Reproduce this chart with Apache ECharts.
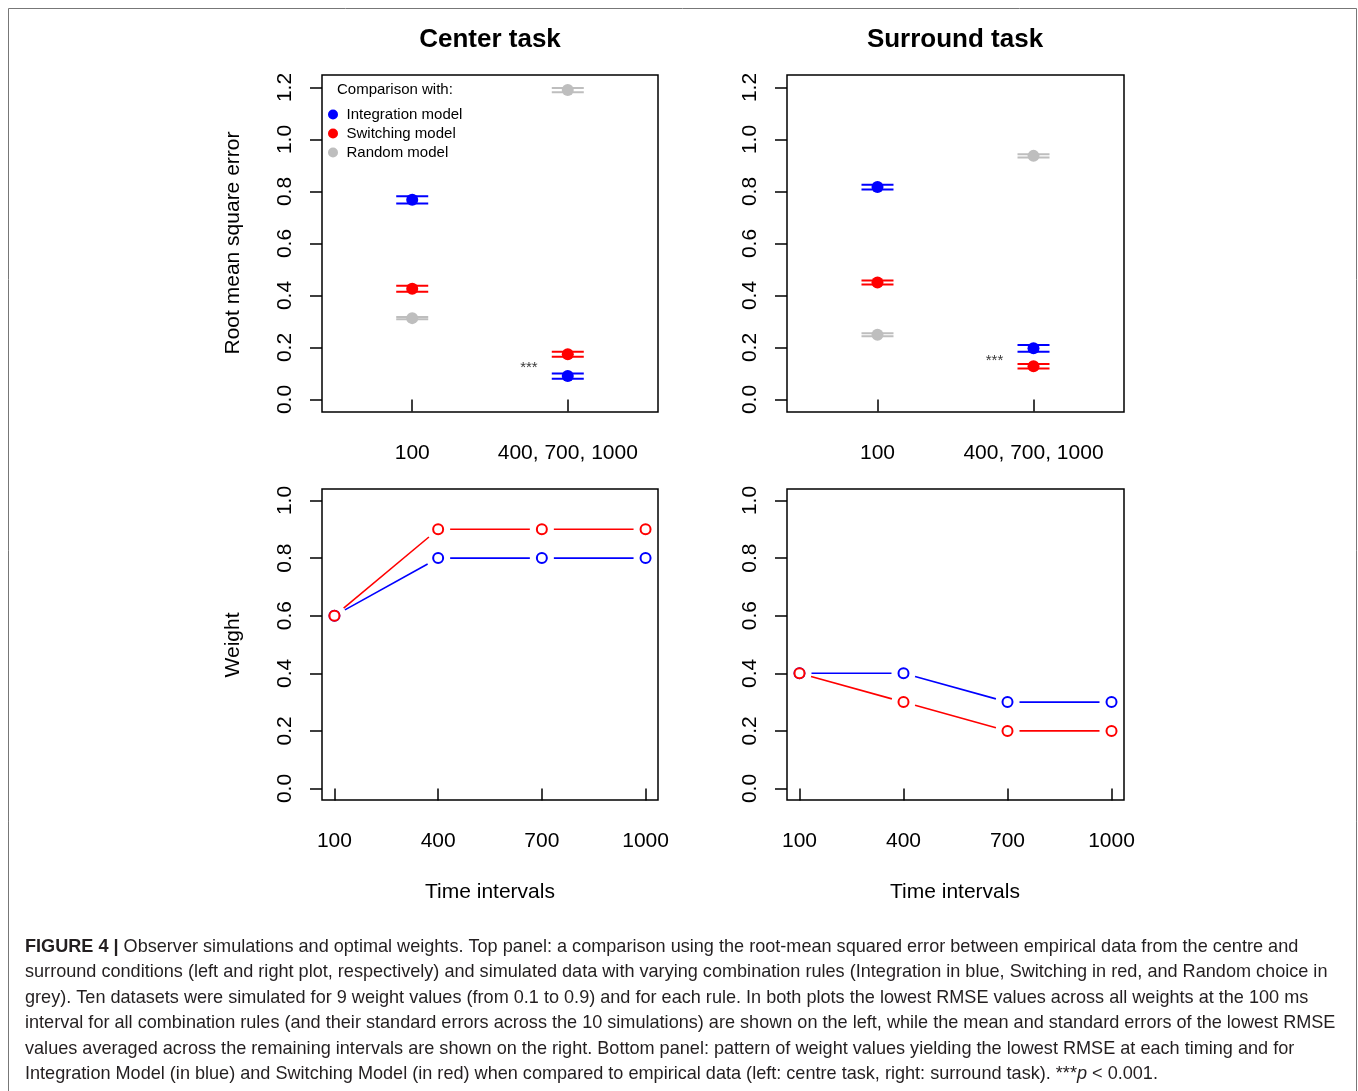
<!DOCTYPE html>
<html>
<head>
<meta charset="utf-8">
<script src="https://cdn.jsdelivr.net/npm/echarts@6/dist/echarts.min.js"></script>
<style>
html,body{margin:0;padding:0;background:#fff;}
#chart{width:1358px;height:1091px;}
</style>
</head>
<body>
<div id="chart"></div>
<script>
// ---------- data ----------
const topCategories = ['100', '400, 700, 1000'];
const topPositions = [1, 2];
const rmseTicks = [0, 0.2, 0.4, 0.6, 0.8, 1.0, 1.2];
const weightTicks = [0, 0.2, 0.4, 0.6, 0.8, 1.0];
const intervals = [100, 400, 700, 1000];

const centerIntegration = [0.768, 0.090];
const centerIntegrationSE = [0.014, 0.010];
const centerSwitching = [0.426, 0.174];
const centerSwitchingSE = [0.012, 0.010];
const centerRandom = [0.313, 1.190];
const centerRandomSE = [0.004, 0.008];

const surroundIntegration = [0.817, 0.197];
const surroundIntegrationSE = [0.009, 0.013];
const surroundSwitching = [0.450, 0.128];
const surroundSwitchingSE = [0.008, 0.009];
const surroundRandom = [0.249, 0.937];
const surroundRandomSE = [0.006, 0.006];

const centerWeightIntegration = [0.6, 0.8, 0.8, 0.8];
const centerWeightSwitching = [0.6, 0.9, 0.9, 0.9];
const surroundWeightIntegration = [0.4, 0.4, 0.3, 0.3];
const surroundWeightSwitching = [0.4, 0.3, 0.2, 0.2];

const centerStars = [[1.75, 0.12]];
const surroundStars = [[1.75, 0.15]];

const captionLines = [
  '{b|FIGURE 4 |} Observer simulations and optimal weights. Top panel: a comparison using the root-mean squared error between empirical data from the centre and',
  'surround conditions (left and right plot, respectively) and simulated data with varying combination rules (Integration in blue, Switching in red, and Random choice in',
  'grey). Ten datasets were simulated for 9 weight values (from 0.1 to 0.9) and for each rule. In both plots the lowest RMSE values across all weights at the 100 ms',
  'interval for all combination rules (and their standard errors across the 10 simulations) are shown on the left, while the mean and standard errors of the lowest RMSE',
  'values averaged across the remaining intervals are shown on the right. Bottom panel: pattern of weight values yielding the lowest RMSE at each timing and for',
  'Integration Model (in blue) and Switching Model (in red) when compared to empirical data (left: centre task, right: surround task). ***{i|p} < 0.001.'
];

// ---------- styles ----------
const BLUE = '#0000FF', RED = '#FF0000', GREY = '#BEBEBE';
const FONT = '"Liberation Sans", Arial, Helvetica, sans-serif';
const CAP = 18.1;

const chart = echarts.init(document.getElementById('chart'));

const grids = [
  {left: 322, top: 75, width: 336, height: 337},
  {left: 787, top: 75, width: 337, height: 337},
  {left: 322, top: 489, width: 336, height: 311},
  {left: 787, top: 489, width: 337, height: 311}
].map(g => Object.assign({show: true, borderColor: '#000', borderWidth: 1.5, backgroundColor: 'transparent'}, g));

function xAxisTop(gi) {
  return {
    type: 'value', gridIndex: gi, min: 0.42, max: 2.58,
    splitLine: {show: false}, axisLine: {show: false},
    axisTick: {show: true, customValues: topPositions, length: 12, lineStyle: {color: '#000', width: 1.5}},
    axisLabel: {show: true, customValues: topPositions, margin: 31, color: '#000', fontSize: 21, fontFamily: FONT,
      formatter: v => topCategories[topPositions.indexOf(v)]}
  };
}
function xAxisBottom(gi) {
  return {
    type: 'value', gridIndex: gi, min: 64, max: 1036,
    splitLine: {show: false}, axisLine: {show: false},
    axisTick: {show: true, customValues: intervals, length: 12, lineStyle: {color: '#000', width: 1.5}},
    axisLabel: {show: true, customValues: intervals, margin: 31, color: '#000', fontSize: 21, fontFamily: FONT,
      formatter: v => String(v)}
  };
}
function yAxis(gi, min, max, ticks) {
  return {
    type: 'value', gridIndex: gi, min: min, max: max,
    splitLine: {show: false}, axisLine: {show: false},
    axisTick: {show: true, customValues: ticks, length: 12, lineStyle: {color: '#000', width: 1.5}},
    axisLabel: {show: true, customValues: ticks, rotate: 90, margin: 26, color: '#000', fontSize: 21, fontFamily: FONT,
      formatter: v => v.toFixed(1)}
  };
}

function errRender(params, api) {
  const x = api.value(0), y = api.value(1), se = api.value(2);
  const hi = api.coord([x, y + se]), lo = api.coord([x, y - se]);
  const style = {stroke: api.visual('color'), lineWidth: 2};
  return {type: 'group', children: [
    {type: 'line', shape: {x1: hi[0] - 16, y1: hi[1], x2: hi[0] + 16, y2: hi[1]}, style: style},
    {type: 'line', shape: {x1: lo[0] - 16, y1: lo[1], x2: lo[0] + 16, y2: lo[1]}, style: style},
    {type: 'line', shape: {x1: hi[0], y1: hi[1], x2: lo[0], y2: lo[1]}, style: style}
  ]};
}
function gapRender(params, api) {
  const a = api.coord([api.value(0), api.value(1)]);
  const b = api.coord([api.value(2), api.value(3)]);
  const dx = b[0] - a[0], dy = b[1] - a[1], L = Math.hypot(dx, dy), g = 12;
  if (L <= 2 * g) return null;
  const ux = dx / L, uy = dy / L;
  return {type: 'line', shape: {x1: a[0] + ux * g, y1: a[1] + uy * g, x2: b[0] - ux * g, y2: b[1] - uy * g},
    style: {stroke: api.visual('color'), lineWidth: 1.6}};
}

function rmseSeries(gi, name, color, vals, se) {
  return [
    {type: 'custom', name: name, xAxisIndex: gi, yAxisIndex: gi, renderItem: errRender,
     itemStyle: {color: color}, encode: {x: 0, y: 1}, z: 2,
     data: vals.map((v, i) => [topPositions[i], v, se[i]])},
    {type: 'scatter', name: name, xAxisIndex: gi, yAxisIndex: gi, symbol: 'circle', symbolSize: 12,
     itemStyle: {color: color, opacity: 1}, z: 3,
     data: vals.map((v, i) => [topPositions[i], v])}
  ];
}
function weightSeries(gi, name, color, vals) {
  return [
    {type: 'custom', name: name, xAxisIndex: gi, yAxisIndex: gi, renderItem: gapRender,
     itemStyle: {color: color}, encode: {x: [0, 2], y: [1, 3]}, z: 2,
     data: vals.slice(0, -1).map((v, i) => [intervals[i], v, intervals[i + 1], vals[i + 1]])},
    {type: 'scatter', name: name, xAxisIndex: gi, yAxisIndex: gi, symbol: 'emptyCircle', symbolSize: 10,
     itemStyle: {color: color, borderColor: color, borderWidth: 1.8, opacity: 1}, z: 3,
     data: vals.map((v, i) => [intervals[i], v])}
  ];
}
function starSeries(gi, pts) {
  return {type: 'scatter', xAxisIndex: gi, yAxisIndex: gi, symbolSize: 1, itemStyle: {color: 'transparent'},
    label: {show: true, position: 'inside', formatter: '***', color: '#000', fontSize: 15, fontFamily: FONT},
    data: pts};
}

const series = [].concat(
  rmseSeries(0, 'Integration model', BLUE, centerIntegration, centerIntegrationSE),
  rmseSeries(0, 'Switching model', RED, centerSwitching, centerSwitchingSE),
  rmseSeries(0, 'Random model', GREY, centerRandom, centerRandomSE),
  rmseSeries(1, 'Integration model', BLUE, surroundIntegration, surroundIntegrationSE),
  rmseSeries(1, 'Switching model', RED, surroundSwitching, surroundSwitchingSE),
  rmseSeries(1, 'Random model', GREY, surroundRandom, surroundRandomSE),
  [starSeries(0, centerStars), starSeries(1, surroundStars)],
  weightSeries(2, 'Integration weight', BLUE, centerWeightIntegration),
  weightSeries(2, 'Switching weight', RED, centerWeightSwitching),
  weightSeries(3, 'Integration weight', BLUE, surroundWeightIntegration),
  weightSeries(3, 'Switching weight', RED, surroundWeightSwitching)
);

const captionGraphics = captionLines.map((t, i) => ({
  type: 'text', left: 25, top: 938 + i * 25.4,
  style: {text: t, fontSize: CAP, fontFamily: FONT, fill: '#231f20',
    rich: {b: {fontWeight: 'bold', fontSize: CAP, fontFamily: FONT, fill: '#231f20'},
           i: {fontStyle: 'italic', fontSize: CAP, fontFamily: FONT, fill: '#231f20'}}}
}));

const option = {
  animation: false,
  backgroundColor: '#fff',
  textStyle: {fontFamily: FONT},
  grid: grids,
  xAxis: [xAxisTop(0), xAxisTop(1), xAxisBottom(2), xAxisBottom(3)],
  yAxis: [yAxis(0, -0.048, 1.248, rmseTicks), yAxis(1, -0.048, 1.248, rmseTicks),
          yAxis(2, -0.04, 1.04, weightTicks), yAxis(3, -0.04, 1.04, weightTicks)],
  legend: {
    data: ['Integration model', 'Switching model', 'Random model'],
    orient: 'vertical', left: 328, top: 107, itemWidth: 17, itemHeight: 10, itemGap: 4,
    icon: 'circle', padding: 0,
    textStyle: {fontSize: 15, color: '#000', fontFamily: FONT}
  },
  graphic: [
    {type: 'rect', shape: {x: 8.5, y: 8.5, width: 1348, height: 1100}, style: {fill: 'none', stroke: '#777', lineWidth: 1}, silent: true},
    {type: 'text', x: 490, y: 40, style: {text: 'Center task', fontSize: 26, fontWeight: 'bold', fontFamily: FONT, fill: '#000', align: 'center', verticalAlign: 'middle'}},
    {type: 'text', x: 955, y: 40, style: {text: 'Surround task', fontSize: 26, fontWeight: 'bold', fontFamily: FONT, fill: '#000', align: 'center', verticalAlign: 'middle'}},
    {type: 'text', x: 233, y: 243, rotation: Math.PI / 2, style: {text: 'Root mean square error', fontSize: 21, fontFamily: FONT, fill: '#000', align: 'center', verticalAlign: 'middle'}},
    {type: 'text', x: 233, y: 645, rotation: Math.PI / 2, style: {text: 'Weight', fontSize: 21, fontFamily: FONT, fill: '#000', align: 'center', verticalAlign: 'middle'}},
    {type: 'text', x: 490, y: 892, style: {text: 'Time intervals', fontSize: 21, fontFamily: FONT, fill: '#000', align: 'center', verticalAlign: 'middle'}},
    {type: 'text', x: 955, y: 892, style: {text: 'Time intervals', fontSize: 21, fontFamily: FONT, fill: '#000', align: 'center', verticalAlign: 'middle'}},
    {type: 'text', x: 337, y: 90, style: {text: 'Comparison with:', fontSize: 15, fontFamily: FONT, fill: '#000', align: 'left', verticalAlign: 'middle'}}
  ].concat(captionGraphics),
  series: series
};
chart.setOption(option);
</script>
</body>
</html>
